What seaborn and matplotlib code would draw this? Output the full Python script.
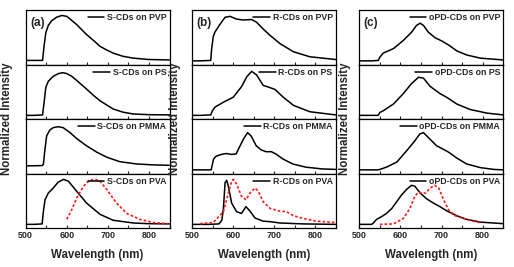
import pandas as pd
import matplotlib
matplotlib.use("Agg")
import matplotlib.pyplot as plt
from matplotlib.ticker import MultipleLocator
import seaborn as sns

# ---- data ----
# column (a): S-CDs
s_pvp_wl = [500, 520, 541, 545, 549, 555, 563, 575, 588, 600, 612, 624, 636, 648, 665, 681, 697, 713, 737, 762, 800, 850]
s_pvp_int = [0.01, 0.01, 0.01, 0.35, 0.62, 0.78, 0.88, 0.96, 1.0, 0.98, 0.89, 0.80, 0.69, 0.58, 0.45, 0.32, 0.24, 0.17, 0.10, 0.06, 0.03, 0.02]
s_ps_wl = [500, 520, 541, 545, 549, 555, 567, 580, 590, 600, 612, 624, 648, 665, 681, 713, 737, 762, 800, 850]
s_ps_int = [0.0, 0.0, 0.01, 0.3, 0.62, 0.75, 0.86, 0.92, 0.94, 0.92, 0.86, 0.77, 0.58, 0.44, 0.32, 0.14, 0.07, 0.03, 0.015, 0.01]
s_pmma_wl = [500, 520, 540, 543, 547, 551, 559, 567, 579, 591, 608, 624, 648, 673, 697, 729, 770, 810, 850]
s_pmma_int = [0.09, 0.09, 0.095, 0.12, 0.46, 0.75, 0.88, 0.93, 0.95, 0.93, 0.82, 0.69, 0.53, 0.39, 0.28, 0.18, 0.13, 0.11, 0.10]
s_pva_wl = [500, 520, 540, 543, 547, 555, 567, 579, 592, 604, 624, 648, 681, 713, 762, 800, 850]
s_pva_int = [0.0, 0.0, 0.01, 0.28, 0.54, 0.69, 0.80, 0.93, 0.99, 0.95, 0.73, 0.47, 0.22, 0.09, 0.03, 0.015, 0.01]
s_pva_red_wl = [600, 612, 624, 636, 648, 661, 669, 681, 697, 721, 746, 778, 811, 847]
s_pva_red_int = [0.11, 0.32, 0.58, 0.77, 0.92, 0.98, 0.99, 0.95, 0.77, 0.47, 0.24, 0.11, 0.04, 0.015]

# column (b): R-CDs
r_pvp_wl = [500, 520, 545, 547, 551, 555, 568, 580, 592, 608, 624, 645, 657, 673, 690, 714, 747, 787, 850]
r_pvp_int = [0.0, 0.0, 0.01, 0.24, 0.53, 0.63, 0.81, 0.96, 0.98, 0.92, 0.90, 0.91, 0.85, 0.70, 0.56, 0.38, 0.20, 0.09, 0.03]
r_ps_wl = [500, 520, 545, 549, 555, 576, 600, 620, 633, 645, 657, 673, 690, 702, 722, 747, 787, 850]
r_ps_int = [0.0, 0.0, 0.01, 0.1, 0.18, 0.29, 0.40, 0.63, 0.85, 0.97, 0.89, 0.66, 0.61, 0.57, 0.40, 0.22, 0.08, 0.01]
r_pmma_wl = [500, 520, 546, 552, 558, 571, 583, 595, 607, 615, 625, 635, 644, 656, 668, 680, 693, 704, 721, 745, 777, 818, 850]
r_pmma_int = [0.0, 0.0, 0.0, 0.24, 0.30, 0.34, 0.36, 0.34, 0.35, 0.50, 0.68, 0.82, 0.74, 0.53, 0.44, 0.40, 0.40, 0.35, 0.24, 0.13, 0.06, 0.02, 0.01]
r_pva_wl = [500, 540, 565, 572, 576, 580, 584, 588, 596, 608, 620, 631, 641, 653, 673, 690, 714, 771, 850]
r_pva_int = [0.0, 0.0, 0.01, 0.09, 0.35, 0.92, 0.97, 0.84, 0.47, 0.28, 0.24, 0.39, 0.29, 0.14, 0.07, 0.06, 0.03, 0.01, 0.0]
r_pva_red_wl = [519, 551, 576, 588, 596, 600, 608, 620, 631, 641, 653, 661, 673, 690, 714, 730, 747, 771, 803, 850]
r_pva_red_int = [0.015, 0.04, 0.28, 0.69, 0.95, 0.99, 0.89, 0.62, 0.54, 0.69, 0.80, 0.73, 0.50, 0.35, 0.29, 0.28, 0.19, 0.13, 0.07, 0.04]

# column (c): oPD-CDs
o_pvp_wl = [500, 530, 546, 550, 558, 583, 607, 627, 639, 648, 656, 668, 684, 700, 717, 737, 761, 794, 850]
o_pvp_int = [0.0, 0.0, 0.01, 0.08, 0.17, 0.27, 0.45, 0.63, 0.78, 0.83, 0.78, 0.63, 0.51, 0.44, 0.35, 0.22, 0.13, 0.06, 0.02]
o_ps_wl = [500, 530, 546, 550, 558, 583, 607, 627, 644, 656, 672, 696, 712, 737, 769, 810, 850]
o_ps_int = [0.0, 0.0, 0.0, 0.065, 0.10, 0.25, 0.48, 0.70, 0.84, 0.82, 0.64, 0.48, 0.40, 0.25, 0.13, 0.05, 0.01]
o_pmma_wl = [500, 530, 546, 550, 566, 591, 615, 635, 647, 656, 668, 688, 705, 717, 737, 761, 794, 827, 850]
o_pmma_int = [0.0, 0.0, 0.0, 0.01, 0.06, 0.17, 0.42, 0.64, 0.79, 0.82, 0.71, 0.53, 0.45, 0.39, 0.26, 0.13, 0.05, 0.01, 0.0]
o_pva_wl = [500, 530, 534, 542, 554, 566, 579, 591, 603, 615, 627, 635, 648, 664, 680, 696, 712, 737, 761, 794, 850]
o_pva_int = [0.0, 0.0, 0.03, 0.11, 0.17, 0.24, 0.35, 0.50, 0.65, 0.77, 0.86, 0.84, 0.69, 0.56, 0.47, 0.39, 0.30, 0.19, 0.11, 0.05, 0.015]
o_pva_red_wl = [550, 583, 607, 623, 635, 644, 652, 662, 672, 683, 693, 705, 717, 733, 753, 777, 798]
o_pva_red_int = [0.0, 0.01, 0.13, 0.35, 0.62, 0.71, 0.69, 0.69, 0.80, 0.86, 0.80, 0.54, 0.32, 0.19, 0.13, 0.07, 0.03]

polymers = ["PVP", "PS", "PMMA", "PVA"]
columns = [
    ("(a)", "S-CDs", [(s_pvp_wl, s_pvp_int), (s_ps_wl, s_ps_int), (s_pmma_wl, s_pmma_int), (s_pva_wl, s_pva_int)], (s_pva_red_wl, s_pva_red_int)),
    ("(b)", "R-CDs", [(r_pvp_wl, r_pvp_int), (r_ps_wl, r_ps_int), (r_pmma_wl, r_pmma_int), (r_pva_wl, r_pva_int)], (r_pva_red_wl, r_pva_red_int)),
    ("(c)", "oPD-CDs", [(o_pvp_wl, o_pvp_int), (o_ps_wl, o_ps_int), (o_pmma_wl, o_pmma_int), (o_pva_wl, o_pva_int)], (o_pva_red_wl, o_pva_red_int)),
]

sns.set_style("ticks")
plt.rcParams['font.family'] = ['Liberation Sans', 'DejaVu Sans']
plt.rcParams['font.weight'] = 'bold'

W, H = 514, 267
fig = plt.figure(figsize=(W / 100, H / 100), dpi=100)

col_x = [(25.7, 169.5), (192.3, 335.7), (359.3, 503.3)]
y_top, y_bot = 10, 228
row_h = (y_bot - y_top) / 4
ylab_x = [7.5, 175, 345]

for c, (tag, cd, curves, red) in enumerate(columns):
    x0, x1 = col_x[c]
    for r in range(4):
        top = y_top + r * row_h
        ax = fig.add_axes([x0 / W, 1 - (top + row_h) / H, (x1 - x0) / W, row_h / H])
        wl, inten = curves[r]
        df = pd.DataFrame({"wl": wl, "I": inten})
        sns.lineplot(data=df, x="wl", y="I", ax=ax, color="black", linewidth=1.1,
                     label=f"{cd} on {polymers[r]}")
        if r == 3:
            dfr = pd.DataFrame({"wl": red[0], "I": red[1]})
            sns.lineplot(data=dfr, x="wl", y="I", ax=ax, color="#ff1a1a", linewidth=1.2,
                         linestyle=(0, (1.6, 1.2)))
        ax.set_xlim(500, 850)
        ax.set_ylim(-0.08, 1.12)
        ax.set_xlabel("")
        ax.set_ylabel("")
        ax.set_yticks([])
        ax.xaxis.set_major_locator(MultipleLocator(100))
        ax.xaxis.set_minor_locator(MultipleLocator(50))
        ax.tick_params(axis="x", which="both", direction="in", length=2.5, width=0.8,
                       top=False, bottom=True, labelsize=6.5, pad=2)
        for s in ax.spines.values():
            s.set_linewidth(0.9)
            s.set_color("black")
        if r < 3:
            ax.set_xticklabels([])
        else:
            for t in ax.get_xticklabels():
                t.set_fontweight("bold")
        h, l = ax.get_legend_handles_labels()
        ax.legend(h[:1], l[:1], loc="upper right", frameon=False,
                  handlelength=1.9, handletextpad=0.3, borderaxespad=0.15,
                  borderpad=0.2, prop={"weight": "bold", "size": 6.3})
        if r == 0:
            ax.text(0.03, 0.77, tag, transform=ax.transAxes, fontsize=8.5,
                    fontweight="bold", ha="left", va="center")
    fig.text(ylab_x[c] / W, 1 - 119 / H, "Normalized Intensity", rotation=90,
             ha="center", va="center", fontsize=8.3, fontweight="bold")
    fig.text((x0 + x1) / 2 / W, 1 - 255 / H, "Wavelength (nm)",
             ha="center", va="center", fontsize=8.3, fontweight="bold")

fig.savefig("out.png", dpi=100)
